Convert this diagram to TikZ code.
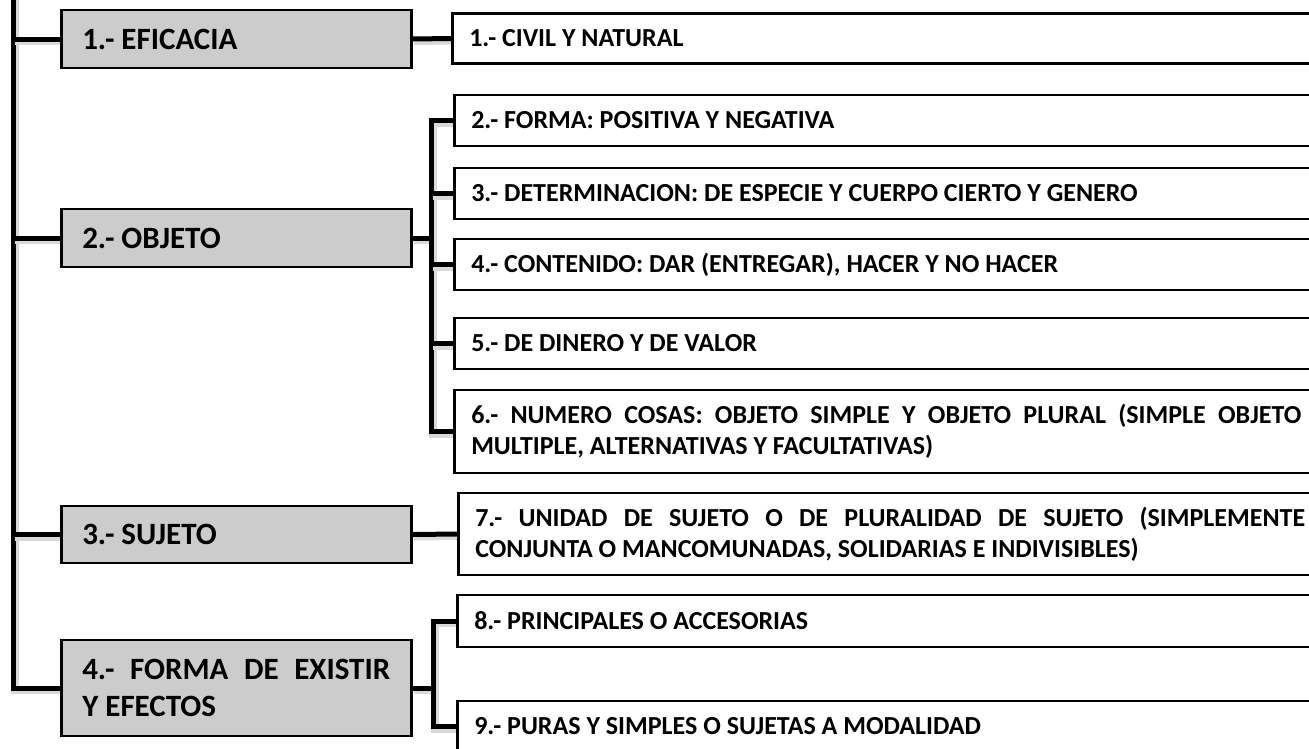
\documentclass[tikz,border=0pt]{standalone}
\usepackage{fontspec}
\setmainfont{Carlito}
\usetikzlibrary{backgrounds}
\definecolor{boxgray}{RGB}{204,204,204}
\tolerance=9999
\hbadness=10000
\tikzset{
  mainbox/.style={draw=black, line width=2.5pt, fill=boxgray, anchor=west,
    text width=308pt, inner xsep=21pt, inner ysep=0pt, align=justify,
    font=\bfseries\fontsize{31}{37}\selectfont},
  itembox/.style={draw=black, line width=2.5pt, fill=white, anchor=west,
    text width=830pt, inner xsep=17pt, inner ysep=0pt, align=justify,
    font=\bfseries\fontsize{26}{31}\selectfont},
  conn/.style={line width=5pt, draw=black,
    preaction={draw=black!15, line width=8pt, transform canvas={shift={(1.5pt,-2pt)}}}}
}
\begin{document}
\begin{tikzpicture}[x=1pt,y=-1pt]
    \useasboundingbox (0,0) rectangle (1309,748);
    \clip (0,0) rectangle (1309,748);

    % main boxes
    \node[mainbox, minimum height=58pt] (eficacia) at (60,39) {1.- EFICACIA};
    \node[mainbox, minimum height=58pt] (objeto) at (60,238) {2.- OBJETO};
    \node[mainbox, minimum height=57pt] (sujeto) at (60,534.5) {3.- SUJETO};
    \node[mainbox, minimum height=96pt] (forma) at (60,688) {4.- FORMA DE EXISTIR\linebreak Y EFECTOS};

    % items
    \node[itembox, minimum height=50pt] (civil) at (451,38.5) {1.- CIVIL Y NATURAL};
    \node[itembox, minimum height=51pt] (positiva) at (453,120.5) {2.- FORMA: POSITIVA Y NEGATIVA};
    \node[itembox, minimum height=51pt] (especie) at (453,193.5) {3.- DETERMINACION: DE ESPECIE Y CUERPO CIERTO Y GENERO};
    \node[itembox, minimum height=51pt] (contenido) at (453,264.5) {4.- CONTENIDO: DAR (ENTREGAR), HACER Y NO HACER};
    \node[itembox, minimum height=51pt] (dinero) at (453,343.5) {5.- DE DINERO Y DE VALOR};
    \node[itembox, minimum height=83pt] (cosas) at (453,431.5) {6.- NUMERO COSAS: OBJETO SIMPLE Y OBJETO PLURAL (SIMPLE OBJETO\linebreak MULTIPLE, ALTERNATIVAS Y FACULTATIVAS)};
    \node[itembox, minimum height=82pt] (unidad) at (457,534) {7.- UNIDAD DE SUJETO O DE PLURALIDAD DE SUJETO (SIMPLEMENTE\linebreak CONJUNTA O MANCOMUNADAS, SOLIDARIAS E INDIVISIBLES)};
    \node[itembox, minimum height=52pt] (principales) at (456,621) {8.- PRINCIPALES O ACCESORIAS};
    \node[itembox, minimum height=51pt] (puras) at (456,726.5) {9.- PURAS Y SIMPLES O SUJETAS A MODALIDAD};

    \coordinate (top) at (13,-6);
    \coordinate (objbar) at (431,0);
    \coordinate (formbar) at (433,0);

    \begin{scope}[on background layer]
    % left spine
    \draw[conn] (top) |- (forma.west);
    \foreach \n in {eficacia,objeto,sujeto}
      \draw[conn] (\n.west) -- (\n.west -| top);
    \draw[conn] (eficacia.east) -- (civil.west);
    \draw[conn] (sujeto.east) -- (unidad.west);
    % objeto
    \draw[conn] (objeto.east) -- (objeto.east -| objbar);
    \draw[conn] (positiva.west) -| (objbar |- cosas.west) -- (cosas.west);
    \foreach \n in {especie,contenido,dinero}
      \draw[conn] (\n.west) -- (\n.west -| objbar);
    % forma de existir
    \draw[conn] (forma.east) -- (forma.east -| formbar);
    \draw[conn] (principales.west) -| (formbar |- puras.west) -- (puras.west);
    \end{scope}
\end{tikzpicture}
\end{document}
